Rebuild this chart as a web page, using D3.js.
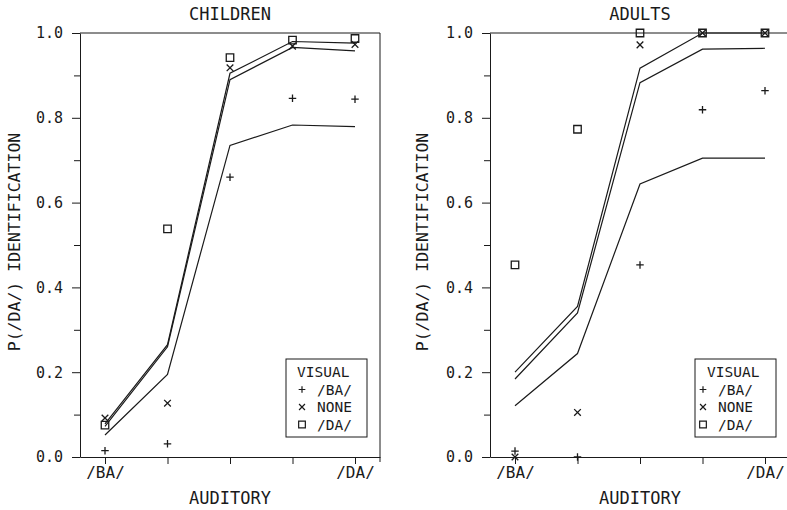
<!DOCTYPE html>
<html>
<head>
<meta charset="utf-8">
<script src="https://cdn.jsdelivr.net/npm/d3@7"></script>
<style>
  body { margin: 0; background: #fff; }
  svg { display: block; }
</style>
</head>
<body>
<div id="chart"></div>
<script>
// ---- data ----
const auditorySteps = [1, 2, 3, 4, 5];
const auditoryLabels = ["/BA/", "", "", "", "/DA/"];
const yMajorTicks = [0, 0.2, 0.4, 0.6, 0.8, 1.0];
const yMinorTicks = [0.1, 0.3, 0.5, 0.7, 0.9];
const visualConditions = ["/BA/", "NONE", "/DA/"];

// Children: observed points and model lines
const childObsBA = [0.015, 0.031, 0.660, 0.846, 0.844];
const childObsNone = [0.092, 0.127, 0.918, 0.969, 0.973];
const childObsDA = [0.075, 0.538, 0.942, 0.983, 0.987];
const childFitBA = [0.052, 0.195, 0.735, 0.783, 0.779];
const childFitNone = [0.072, 0.260, 0.890, 0.966, 0.958];
const childFitDA = [0.078, 0.265, 0.905, 0.980, 0.976];

// Adults: observed points and model lines
const adultObsBA = [0.014, 0.000, 0.453, 0.819, 0.864];
const adultObsNone = [0.000, 0.105, 0.972, 1.000, 1.000];
const adultObsDA = [0.453, 0.773, 1.000, 1.000, 1.000];
const adultFitBA = [0.121, 0.244, 0.644, 0.705, 0.705];
const adultFitNone = [0.184, 0.340, 0.883, 0.962, 0.964];
const adultFitDA = [0.200, 0.355, 0.917, 1.000, 1.000];

// ---- drawing ----
const width = 787;
const height = 510;
const ink = "#1a1a1a";
const font = "'DejaVu Sans Mono', monospace";

const svg = d3.select("#chart")
  .append("svg")
  .attr("width", width)
  .attr("height", height);

// plotter-style symbols
const plusSym = {
  draw(ctx, size) {
    const r = Math.sqrt(size) / 2;
    ctx.moveTo(-r, 0); ctx.lineTo(r, 0);
    ctx.moveTo(0, -r); ctx.lineTo(0, r);
  }
};
const timesSym = {
  draw(ctx, size) {
    const r = Math.sqrt(size) / 2;
    ctx.moveTo(-r, -r); ctx.lineTo(r, r);
    ctx.moveTo(-r, r); ctx.lineTo(r, -r);
  }
};
const squareSym = {
  draw(ctx, size) {
    const r = Math.sqrt(size) / 2;
    ctx.rect(-r, -r, 2 * r, 2 * r);
  }
};
const symbolTypes = [plusSym, timesSym, squareSym];
const symbolSizes = [56, 44, 56];

const drawPanel = (p) => {
  const g = svg.append("g");

  const xScale = d3.scaleLinear()
    .domain([0.6, 5.4])
    .range([p.left, p.left + 300]);
  const yScale = d3.scaleLinear()
    .domain([0, 1])
    .range([457, 33]);

  // frame: top and right edges
  g.append("path")
    .attr("d", `M${xScale(0.6)},${yScale(1)}H${xScale(5.4)}V${yScale(0) + 5}`)
    .attr("fill", "none")
    .attr("stroke", ink)
    .attr("stroke-width", 1);

  // left axis, major + minor ticks
  const leftAxis = d3.axisLeft(yScale)
    .tickValues(yMajorTicks)
    .tickFormat(d3.format(".1f"))
    .tickSize(8)
    .tickSizeOuter(0)
    .tickPadding(9);
  const ya = g.append("g")
    .attr("transform", `translate(${p.left},0)`)
    .call(leftAxis);
  const minorAxis = d3.axisLeft(yScale)
    .tickValues(yMinorTicks)
    .tickFormat("")
    .tickSize(6)
    .tickSizeOuter(0);
  const ym = g.append("g")
    .attr("transform", `translate(${p.left},0)`)
    .call(minorAxis);
  ym.select(".domain").remove();

  // bottom axis
  const bottomAxis = d3.axisBottom(xScale)
    .tickValues(auditorySteps)
    .tickFormat((d, i) => auditoryLabels[i])
    .tickSize(7)
    .tickSizeOuter(0)
    .tickPadding(3);
  const xa = g.append("g")
    .attr("transform", `translate(0,${yScale(0)})`)
    .call(bottomAxis);

  [ya, ym, xa].forEach(a => {
    a.attr("font-family", font).attr("font-size", 15);
    a.selectAll("path, line").attr("stroke", ink).attr("stroke-width", 1);
    a.selectAll("text").attr("fill", ink);
  });
  xa.attr("font-size", 16);

  // titles
  g.append("text")
    .text(p.title)
    .attr("x", xScale(3))
    .attr("y", 20)
    .attr("text-anchor", "middle")
    .attr("font-family", font)
    .attr("font-size", 17)
    .attr("fill", ink);
  g.append("text")
    .text("AUDITORY")
    .attr("x", xScale(3))
    .attr("y", 504)
    .attr("text-anchor", "middle")
    .attr("font-family", font)
    .attr("font-size", 17)
    .attr("fill", ink);
  g.append("text")
    .text("P(/DA/) IDENTIFICATION")
    .attr("transform", `translate(${p.yTitleX},242) rotate(-90)`)
    .attr("text-anchor", "middle")
    .attr("font-family", font)
    .attr("font-size", 16.5)
    .attr("fill", ink);

  // model lines
  const lineGenerator = d3.line()
    .x((d, i) => xScale(auditorySteps[i]))
    .y(d => yScale(d));
  p.fits.forEach(fit => {
    g.append("path")
      .attr("d", lineGenerator(fit))
      .attr("fill", "none")
      .attr("stroke", ink)
      .attr("stroke-width", 1.2);
  });

  // observed points
  p.obs.forEach((series, k) => {
    const sym = d3.symbol().type(symbolTypes[k]).size(symbolSizes[k]);
    g.selectAll(null)
      .data(series)
      .join("path")
        .attr("d", sym)
        .attr("transform", (d, i) => `translate(${xScale(auditorySteps[i])},${yScale(d)})`)
        .attr("fill", "none")
        .attr("stroke", ink)
        .attr("stroke-width", 1.3);
  });

  // legend
  const lg = g.append("g")
    .attr("transform", `translate(${p.legendX},359)`);
  lg.append("rect")
    .attr("width", 81)
    .attr("height", 78)
    .attr("fill", "none")
    .attr("stroke", ink)
    .attr("stroke-width", 1);
  lg.append("text")
    .text("VISUAL")
    .attr("x", p.legendTitleDx)
    .attr("y", 18)
    .attr("font-family", font)
    .attr("font-size", 14.5)
    .attr("fill", ink);
  visualConditions.forEach((name, k) => {
    const yRow = 35.5 + k * 17.5;
    lg.append("path")
      .attr("d", d3.symbol().type(symbolTypes[k]).size(symbolSizes[k] * 0.8)())
      .attr("transform", `translate(${p.legendSymDx},${yRow - 5})`)
      .attr("fill", "none")
      .attr("stroke", ink)
      .attr("stroke-width", 1.2);
    lg.append("text")
      .text(name)
      .attr("x", p.legendSymDx + 15)
      .attr("y", yRow)
      .attr("font-family", font)
      .attr("font-size", 14.5)
      .attr("fill", ink);
  });
};

drawPanel({
  title: "CHILDREN",
  left: 80,
  yTitleX: 20,
  legendX: 286,
  legendTitleDx: 11,
  legendSymDx: 16,
  fits: [childFitBA, childFitNone, childFitDA],
  obs: [childObsBA, childObsNone, childObsDA]
});

drawPanel({
  title: "ADULTS",
  left: 490,
  yTitleX: 428,
  legendX: 695,
  legendTitleDx: 12,
  legendSymDx: 8,
  fits: [adultFitBA, adultFitNone, adultFitDA],
  obs: [adultObsBA, adultObsNone, adultObsDA]
});
</script>
</body>
</html>
